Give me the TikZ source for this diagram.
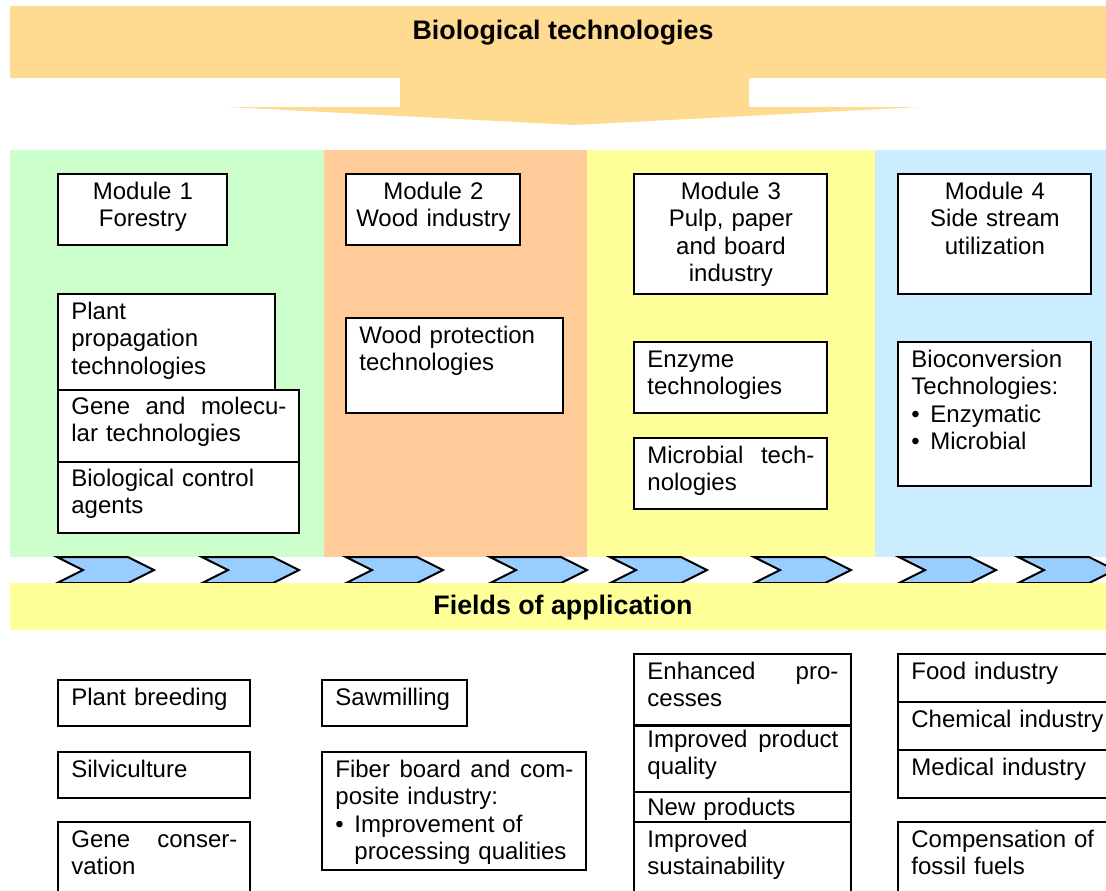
\documentclass[tikz,border=0pt]{standalone}
\usepackage{fontspec}
\setmainfont{Liberation Sans}
\definecolor{bannerc}{RGB}{255,219,145}
\definecolor{greenc}{RGB}{204,255,204}
\definecolor{orangec}{RGB}{255,204,153}
\definecolor{yellowc}{RGB}{255,255,153}
\definecolor{bluec}{RGB}{204,236,255}
\definecolor{chevc}{RGB}{153,204,255}
\tikzset{
  bx/.style={draw=black, line width=0.8pt, fill=white},
  tx/.style={inner sep=0pt, anchor=base west, font=\fontsize{12}{13.75}\selectfont},
  lft/.style={align=left},
  ctr/.style={align=center},
  chev/.style={draw=black, line width=1pt, fill=chevc, line join=miter},
  title/.style={inner sep=0pt, anchor=base, font=\fontsize{13.4}{15}\selectfont\bfseries}
}
\newcommand\tbox[8][25]{%
  \path[bx] (#3,#4) rectangle (#5,#6);
  \pgfmathsetmacro\tw{(#5-#3-26)*0.5}%
  \node[tx,#7,text width=\tw pt] (#2) at ({#3+13},{#4+#1}) {#8};
}
\newcommand\cbox[6]{%
  \path[bx] (#2,#3) rectangle (#4,#5);
  \pgfmathsetmacro\tw{(#4-#2)*0.5}%
  \node[tx,ctr,text width=\tw pt] (#1) at (#2,{#3+25}) {#6};
}
\newcommand\chevron[1]{%
  \path[chev] (#1,557) -- ({#1+71},557) -- ({#1+97},570) -- ({#1+71},583) -- (#1,583) -- ({#1+26},570) -- cycle;
}
\begin{document}
\begin{tikzpicture}[x=0.5pt,y=-0.5pt]
\useasboundingbox (0,0) rectangle (1106,890);
% top arrow
\fill[bannerc] (10,6) -- (1106,6) -- (1106,78) -- (749,78) -- (749,107) -- (920,107) -- (574,125) -- (228,107) -- (400,107) -- (400,78) -- (10,78) -- cycle;
\node[title] (titletop) at (563,39) {Biological technologies};
% columns
\fill[greenc] (10,150) rectangle (324,557);
\fill[orangec] (324,150) rectangle (587,557);
\fill[yellowc] (587,150) rectangle (875,557);
\fill[bluec] (875,150) rectangle (1106,557);
% chevrons
\foreach \cx in {57,202,346,490,610,754,899,1018} {\chevron{\cx}}
% fields band
\fill[yellowc] (10,583) rectangle (1106,630);
\node[title] (titlefields) at (563,614) {Fields of application};
% module 1
\cbox{m1}{58}{174}{227}{245}{Module 1\\Forestry}
\tbox{plant}{58}{294}{275}{390}{lft}{Plant\\propagation\\technologies}
\tbox[24]{gene}{58}{390}{299}{462}{lft}{Gene\hfill and\hfill molecu-\\lar technologies}
\tbox[24]{bioc}{58}{462}{299}{533}{lft}{Biological control\\agents}
% module 2
\cbox{m2}{346}{174}{520}{245}{Module 2\\Wood industry}
\tbox{woodp}{346}{318}{563}{413}{lft}{Wood protection\\technologies}
% module 3
\cbox{m3}{634}{174}{827}{294}{Module 3\\Pulp, paper\\and board\\industry}
\tbox{enz}{634}{342}{827}{413}{lft}{Enzyme\\technologies}
\tbox{micro}{634}{438}{827}{509}{lft}{Microbial\hfill tech-\\nologies}
% module 4
\cbox{m4}{898}{174}{1091}{294}{Module 4\\Side stream\\utilization}
\tbox{bconv}{898}{342}{1091}{486}{lft}{Bioconversion\\Technologies:\\\makebox[9.5pt][l]{\textbullet}Enzymatic\\\makebox[9.5pt][l]{\textbullet}Microbial}
% fields of application
\tbox{pbreed}{58}{680}{250}{726}{lft}{Plant breeding}
\tbox{silvi}{58}{752}{250}{798}{lft}{Silviculture}
\tbox{gcons}{58}{822}{250}{896}{lft}{Gene\hfill conser-\\vation}
\tbox{saw}{322}{680}{467}{726}{lft}{Sawmilling}
\tbox{fiber}{322}{752}{586}{870}{lft}{Fiber\hfill board\hfill and\hfill com-\\posite industry:\\\makebox[9.5pt][l]{\textbullet}Improvement of\\\hspace*{9.5pt}processing qualities}
\tbox{enh}{634}{654}{851}{725}{lft}{Enhanced\hfill pro-\\cesses}
\tbox[21]{impq}{634}{726}{851}{792}{lft}{Improved\hfill product\\quality}
\tbox[23]{newp}{634}{792}{851}{822}{lft}{New products}
\tbox{imps}{634}{822}{851}{896}{lft}{Improved\\sustainability}
\tbox{food}{898}{654}{1140}{702}{lft}{Food industry}
\tbox{chem}{898}{702}{1140}{750}{lft}{Chemical industry}
\tbox{med}{898}{750}{1140}{798}{lft}{Medical industry}
\tbox{comp}{898}{822}{1140}{896}{lft}{Compensation of\\fossil fuels}
\end{tikzpicture}
\end{document}
